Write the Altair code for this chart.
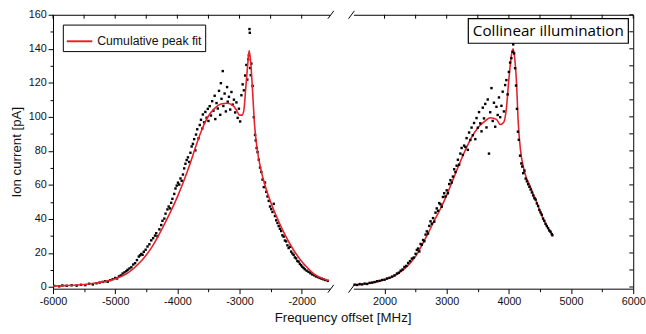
import altair as alt
import pandas as pd

# ---------------- data ----------------
left_fit_x = [-6000, -5800, -5600, -5400, -5200, -5000, -4800, -4600, -4400, -4200,
              -4000, -3900, -3800, -3700, -3600, -3500, -3400, -3300, -3200, -3100,
              -3050, -3000, -2960, -2930, -2900, -2870, -2845, -2820, -2790, -2760,
              -2720, -2650, -2600, -2500, -2400, -2300, -2200, -2100, -2000, -1900,
              -1800, -1700, -1560]
left_fit_y = [0.5, 0.8, 1.2, 1.9, 3.0, 4.8, 8.2, 14.5, 24, 37.5,
              53, 62, 72, 83, 93, 100.5, 105, 107.5, 108, 106.5,
              104, 101, 101, 104, 117, 130, 139, 132, 115, 96,
              82, 68, 61, 50, 41, 33, 26, 20, 15, 11,
              7.5, 5.5, 3.6]

right_fit_x = [1500, 1600, 1800, 1900, 2000, 2100, 2200, 2300, 2400, 2500,
               2600, 2700, 2800, 2900, 3000, 3100, 3200, 3300, 3400, 3500,
               3600, 3700, 3800, 3860, 3920, 3960, 4000, 4040, 4068, 4095,
               4120, 4150, 4185, 4250, 4350, 4450, 4550, 4650, 4700]
right_fit_y = [1.2, 1.5, 2.5, 3.3, 4.2, 5.5, 7.5, 10, 13.5, 18,
               24.5, 31.5, 39, 46, 54, 63, 72, 80.5, 88, 93.5,
               97, 99.5, 98.5, 95.5, 97, 105, 122, 136, 140, 134,
               122, 97, 81, 68, 58.5, 49.5, 40, 33.5, 30.5]

left_pts_x = [-5980, -5900, -5850, -5780, -5700, -5620, -5550, -5480, -5420, -5360,
              -5300, -5250, -5200, -5160, -5120, -5080, -5040, -5000, -4970, -4940,
              -4910, -4880, -4850, -4820, -4800, -4770, -4740, -4710, -4680, -4650,
              -4620, -4600, -4580, -4560, -4540, -4510, -4480, -4450, -4420, -4390,
              -4360, -4340, -4320, -4290, -4260, -4240, -4210, -4190, -4160, -4140,
              -4120, -4100, -4080, -4050, -4030, -4010, -3990, -3970, -3950, -3930,
              -3910, -3890, -3870, -3850, -3830, -3810, -3790, -3770, -3750, -3730,
              -3710, -3700, -3680, -3660, -3640, -3620, -3600, -3590, -3570, -3550,
              -3530, -3510, -3500, -3480, -3460, -3440, -3420, -3400, -3390, -3370,
              -3350, -3330, -3310, -3300, -3290, -3270, -3260, -3240, -3220, -3200,
              -3190, -3170, -3150, -3130, -3110, -3090, -3070, -3050, -3030, -3010,
              -2990, -2970, -2950, -2930, -2910, -2890, -2875, -2860, -2850, -2840,
              -2835, -2830, -2820, -2810, -2790, -2770, -2750, -2740, -2725, -2710,
              -2690, -2670, -2650, -2630, -2610, -2590, -2570, -2550, -2530, -2510,
              -2490, -2470, -2450, -2430, -2410, -2390, -2370, -2350, -2330, -2310,
              -2290, -2270, -2250, -2230, -2210, -2190, -2170, -2150, -2130, -2110,
              -2090, -2070, -2050, -2030, -2010, -1990, -1970, -1950, -1920, -1890,
              -1860, -1830, -1800, -1770, -1740, -1710, -1680, -1650, -1620, -1580]
left_pts_y = [0.6, 0.4, 0.9, 0.7, 1.0, 0.8, 1.3, 1.1, 1.9, 1.5,
              2.2, 2.6, 3.0, 3.4, 3.1, 4.0, 4.6, 5.3, 5.0, 6.2,
              6.8, 7.9, 8.6, 9.3, 10.1, 10.9, 11.6, 13.2, 14.0, 15.8,
              17.9, 18.6, 19.4, 18.9, 20.7, 21.9, 23.8, 25.1, 27.4, 28.7,
              30.2, 31.6, 29.8, 33.9, 36.4, 38.9, 40.2, 43.1, 45.6, 47.3,
              46.2, 49.5, 51.8, 54.7, 57.9, 59.6, 61.3, 60.2, 63.8, 62.4,
              66.1, 69.7, 72.4, 74.6, 76.2, 73.5, 78.9, 82.6, 84.1, 86.9,
              80.3, 89.6, 92.7, 87.4, 95.2, 98.3, 93.1, 101.4, 96.8, 102.9,
              99.5, 104.7, 97.6, 106.3, 100.8, 109.2, 103.6, 112.4, 98.7, 108.1,
              104.9, 115.3, 101.2, 119.8, 110.6, 126.9, 106.4, 113.7, 103.2, 117.5,
              108.9, 111.8, 104.3, 114.6, 107.2, 110.1, 102.6, 108.5, 99.4, 104.8,
              97.3, 112.7, 119.1, 115.6, 124.3, 130.5, 121.9, 133.8, 136.2, 151.6,
              149.4, 128.7, 124.5, 131.3, 118.2, 99.8, 89.4, 86.1, 81.7, 79.3,
              74.8, 70.2, 67.6, 63.1, 58.7, 61.4, 55.9, 53.2, 50.6, 47.3,
              45.8, 44.1, 48.9, 41.7, 39.2, 37.6, 35.8, 34.2, 32.9, 30.4,
              29.6, 27.3, 26.8, 24.5, 22.9, 23.6, 20.8, 19.7, 18.9, 17.4,
              16.8, 15.3, 14.9, 13.6, 12.8, 11.9, 11.2, 10.4, 9.6, 8.9,
              8.1, 7.4, 6.9, 6.2, 5.8, 5.3, 4.9, 4.5, 4.1, 3.6]

right_pts_x = [1520, 1560, 1600, 1640, 1680, 1720, 1760, 1800, 1840, 1880,
               1920, 1960, 2000, 2040, 2080, 2120, 2160, 2200, 2230, 2260,
               2290, 2320, 2350, 2380, 2410, 2440, 2470, 2500, 2520, 2540,
               2560, 2580, 2600, 2620, 2640, 2660, 2680, 2700, 2720, 2740,
               2760, 2780, 2800, 2820, 2840, 2860, 2880, 2900, 2920, 2940,
               2960, 2980, 3000, 3020, 3040, 3060, 3080, 3100, 3120, 3140,
               3160, 3180, 3200, 3220, 3240, 3260, 3280, 3300, 3320, 3340,
               3360, 3380, 3400, 3420, 3440, 3460, 3480, 3500, 3520, 3540,
               3560, 3580, 3600, 3620, 3640, 3660, 3680, 3700, 3720, 3740,
               3760, 3780, 3800, 3820, 3840, 3860, 3880, 3900, 3920, 3940,
               3960, 3980, 4000, 4020, 4040, 4060, 4070, 4085, 4100, 4115,
               4130, 4145, 4160, 4180, 4200, 4215, 4230, 4250, 4270, 4290,
               4310, 4330, 4350, 4370, 4390, 4410, 4430, 4450, 4470, 4490,
               4510, 4530, 4550, 4570, 4590, 4610, 4630, 4650, 4670, 4690, 4700]
right_pts_y = [1.4, 1.2, 1.7, 1.5, 2.0, 1.8, 2.4, 2.6, 2.9, 3.4,
               3.6, 4.1, 4.3, 5.0, 5.4, 6.1, 6.8, 7.9, 8.4, 9.6,
               10.3, 11.8, 12.4, 14.1, 15.2, 16.7, 17.3, 19.5, 21.8, 22.6,
               20.9, 25.3, 24.8, 27.6, 26.9, 30.8, 32.7, 31.4, 35.9, 38.6,
               37.2, 40.5, 38.4, 43.7, 46.2, 44.8, 49.3, 48.6, 47.2, 52.9,
               55.1, 53.2, 56.8, 55.1, 60.5, 62.8, 61.4, 64.9, 69.2, 67.6,
               71.3, 74.8, 71.9, 78.4, 81.7, 77.6, 83.1, 82.3, 87.5, 80.6,
               90.8, 86.4, 93.7, 89.2, 96.4, 86.9, 99.3, 93.6, 102.8, 96.2,
               91.5, 105.4, 99.1, 107.6, 93.8, 110.2, 78.4, 102.7, 116.9, 97.6,
               108.3, 94.2, 105.9, 101.1, 111.4, 99.8, 106.5, 114.8, 103.2, 118.7,
               121.6, 113.2, 126.4, 131.9, 134.5, 138.2, 142.6, 137.3, 128.6, 118.4,
               104.7, 91.3, 86.5, 77.2, 72.6, 70.8, 66.9, 68.4, 63.7, 62.1,
               60.4, 58.9, 57.3, 55.6, 53.8, 52.2, 51.4, 49.1, 47.6, 45.3,
               43.8, 42.5, 40.2, 38.9, 37.1, 35.8, 34.6, 33.2, 32.5, 31.1, 30.4]

x_ticks_left = [-6000, -5500, -5000, -4500, -4000, -3500, -3000, -2500, -2000]
x_ticks_right = [2000, 2500, 3000, 3500, 4000, 4500, 5000, 5500, 6000]
y_ticks = [0, 10, 20, 30, 40, 50, 60, 70, 80, 90, 100, 110, 120, 130, 140, 150, 160]

legend_label = "Cumulative peak fit"
box_label = "Collinear illumination"
x_title = "Frequency offset [MHz]"
y_title = "Ion current [pA]"

# ---------------- tables ----------------
df_fl = pd.DataFrame({"f": left_fit_x, "i": left_fit_y, "s": legend_label})
df_fr = pd.DataFrame({"f": right_fit_x, "i": right_fit_y, "s": legend_label})
df_pl = pd.DataFrame({"f": left_pts_x, "i": left_pts_y})
df_pr = pd.DataFrame({"f": right_pts_x, "i": right_pts_y})
df_tl = pd.DataFrame({"f": x_ticks_left})
df_tr = pd.DataFrame({"f": x_ticks_right})
df_ty = pd.DataFrame({"i": y_ticks})
one = pd.DataFrame({"k": [0]})

# ---------------- style ----------------
FONT = "Liberation Sans"
RED = "#e8202a"
INK = "#111111"
W_L, W_R, H = 282, 285, 279
LBL = 11

xs_left = alt.Scale(domain=[-6000, -1547], nice=False, zero=False)
xs_right = alt.Scale(domain=[1500, 6000], nice=False, zero=False)
ys = alt.Scale(domain=[-1, 160], nice=False, zero=False)


def bottom_axis(values):
    return alt.Axis(
        orient="bottom", values=values, grid=False, title=None,
        domainColor="black", tickColor="black", labelColor=INK,
        labelFont=FONT, labelFontSize=LBL, labelPadding=2, labelOverlap=False,
        labelFlush=False,
        labelExpr="datum.value % 1000 === 0 ? '' + datum.value : ''",
        tickSize={"condition": {"test": "datum.value % 1000 === 0", "value": 5}, "value": 3})


top_frame = alt.Axis(orient="top", labels=False, ticks=False, title=None,
                     domainColor="black", grid=False)


def slash(cx, cy):
    return alt.Chart(one).mark_rule(color="black", strokeWidth=1).encode(
        x=alt.value(cx - 3), x2=alt.value(cx + 3),
        y=alt.value(cy + 4), y2=alt.value(cy - 4))


# ---------------- left panel ----------------
pts_left = alt.Chart(df_pl).mark_square(size=6, color="black", opacity=1).encode(
    x=alt.X("f:Q", scale=xs_left, axis=bottom_axis(x_ticks_left)),
    y=alt.Y("i:Q", scale=ys, axis=alt.Axis(
        orient="left", values=y_ticks, grid=False, title=y_title,
        domainColor="black", tickColor="black", labelColor=INK,
        labelFont=FONT, labelFontSize=LBL, labelPadding=2, labelOverlap=False,
        labelExpr="datum.value % 20 === 0 ? datum.label : ''",
        tickSize={"condition": {"test": "datum.value % 20 === 0", "value": 5}, "value": 3},
        titleFont=FONT, titleFontSize=13.5, titleFontWeight="normal", titleColor=INK,
        titlePadding=5)),
)

line_left = alt.Chart(df_fl).mark_line(strokeWidth=1.6, interpolate="monotone").encode(
    x=alt.X("f:Q", scale=xs_left, axis=top_frame),
    y=alt.Y("i:Q", scale=ys, axis=None),
    color=alt.Color("s:N", scale=alt.Scale(range=[RED]), legend=alt.Legend(
        orient="none", legendX=10, legendY=10, title=None,
        symbolType="stroke", symbolSize=676, symbolStrokeWidth=2,
        labelFont=FONT, labelFontSize=12.5, labelColor=INK, labelOffset=4,
        strokeColor="black", fillColor="white", padding=3)),
)

ticks_top_left = alt.Chart(df_tl).mark_rule(color="black").encode(
    x=alt.X("f:Q", scale=xs_left, axis=None), y=alt.value(0), y2=alt.value(4))

left = alt.layer(
    pts_left, line_left, ticks_top_left, slash(W_L + 1, 0), slash(W_L + 1, H)
).resolve_axis(x="independent", y="independent").properties(width=W_L, height=H)

# ---------------- right panel ----------------
box = alt.Chart(one).mark_rect(fill="white", stroke="black", strokeWidth=1.2).encode(
    x=alt.value(117), x2=alt.value(280), y=alt.value(4), y2=alt.value(29))
box_text = alt.Chart(one).mark_text(
    text=box_label, font="Open Sans", fontSize=15.5, color="black",
    align="center", baseline="middle").encode(x=alt.value(198.5), y=alt.value(17))

pts_right = alt.Chart(df_pr).mark_square(size=6, color="black", opacity=1).encode(
    x=alt.X("f:Q", scale=xs_right, axis=bottom_axis(x_ticks_right)),
    y=alt.Y("i:Q", scale=ys, axis=alt.Axis(orient="right", labels=False, ticks=False,
                                           title=None, domainColor="black", grid=False)),
)

line_right = alt.Chart(df_fr).mark_line(color=RED, strokeWidth=1.6, interpolate="monotone").encode(
    x=alt.X("f:Q", scale=xs_right, axis=top_frame),
    y=alt.Y("i:Q", scale=ys, axis=None),
)

ticks_top_right = alt.Chart(df_tr).mark_rule(color="black").encode(
    x=alt.X("f:Q", scale=xs_right, axis=None), y=alt.value(0), y2=alt.value(4))
ticks_side_right = alt.Chart(df_ty).mark_rule(color="black").encode(
    y=alt.Y("i:Q", scale=ys, axis=None), x=alt.value(W_R - 4), x2=alt.value(W_R))

right = alt.layer(
    box, box_text, line_right, pts_right, ticks_top_right, ticks_side_right,
    slash(-2, 0), slash(-2, H)
).resolve_axis(x="independent", y="independent").properties(width=W_R, height=H)

chart = alt.hconcat(left, right, spacing=13).resolve_legend(
    color="independent"
).properties(
    title=alt.TitleParams(text=x_title, orient="bottom", anchor="middle", dx=16,
                          offset=5, font=FONT, fontSize=13.5, fontWeight="normal",
                          color=INK),
    padding={"left": 9, "top": 6, "right": 0, "bottom": 1},
    background="white",
).configure_view(stroke=None)

chart.save("out.html", embed_options={"renderer": "svg", "actions": False})
